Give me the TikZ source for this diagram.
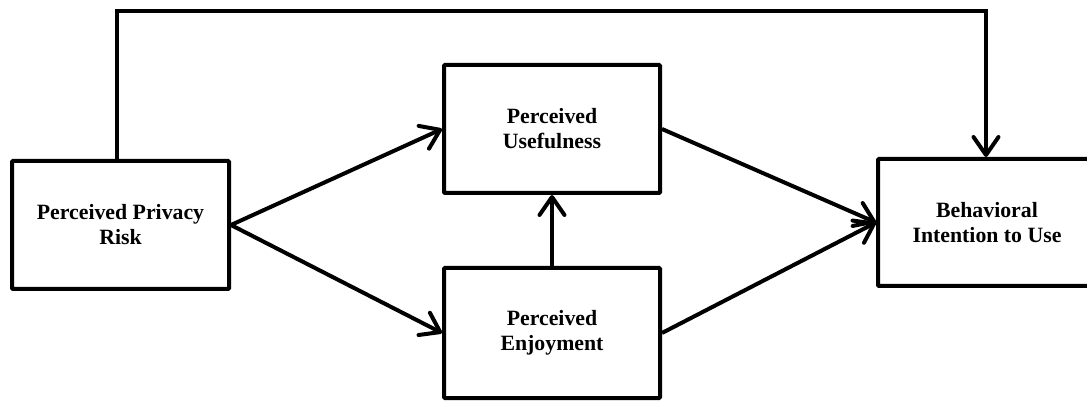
\documentclass[tikz,border=0pt]{standalone}
\usepackage{fontspec}
\setmainfont{Liberation Serif}
\usetikzlibrary{arrows.meta}
\begin{document}
\begin{tikzpicture}[x=1pt,y=-1pt,
  box/.style={draw=black, line width=4pt, fill=white, minimum width=217pt, minimum height=128pt,
    inner sep=0pt, align=center, rounded corners=1pt,
    font=\fontsize{21.8}{25}\selectfont\bfseries},
  arr/.style={line width=4pt, line join=miter, -{Straight Barb[length=18pt,width=25pt,round]}}]
\useasboundingbox (0,0) rectangle (1087,403);
\fill[white] (0,0) rectangle (1087,403);
\clip (0,0) rectangle (1087,403);
\node[box] (ppr) at (120.5,225) {Perceived Privacy\\Risk};
\node[box, minimum width=216pt] (pu) at (552,129) {Perceived\\Usefulness};
\node[box, minimum width=216pt, minimum height=130pt] (pe) at (552,333) {Perceived\\Enjoyment};
\node[box, minimum width=218pt, minimum height=127pt] (biu) at (987,222.5) {Behavioral\\Intention to Use};
\coordinate (tl) at (117,11);
\coordinate (tr) at (986,11);
\draw[arr] (ppr.north -| tl) -- (tl) -- (tr) -- (biu.north -| tr);
\draw[arr] (ppr.east) -- (pu.west);
\draw[arr] (ppr.east) -- (pe.west);
\draw[arr] (pu.east) -- (biu.west);
\draw[arr] (pe.east) -- (biu.west);
\draw[arr] (pe.north) -- (pu.south);
\end{tikzpicture}
\end{document}
